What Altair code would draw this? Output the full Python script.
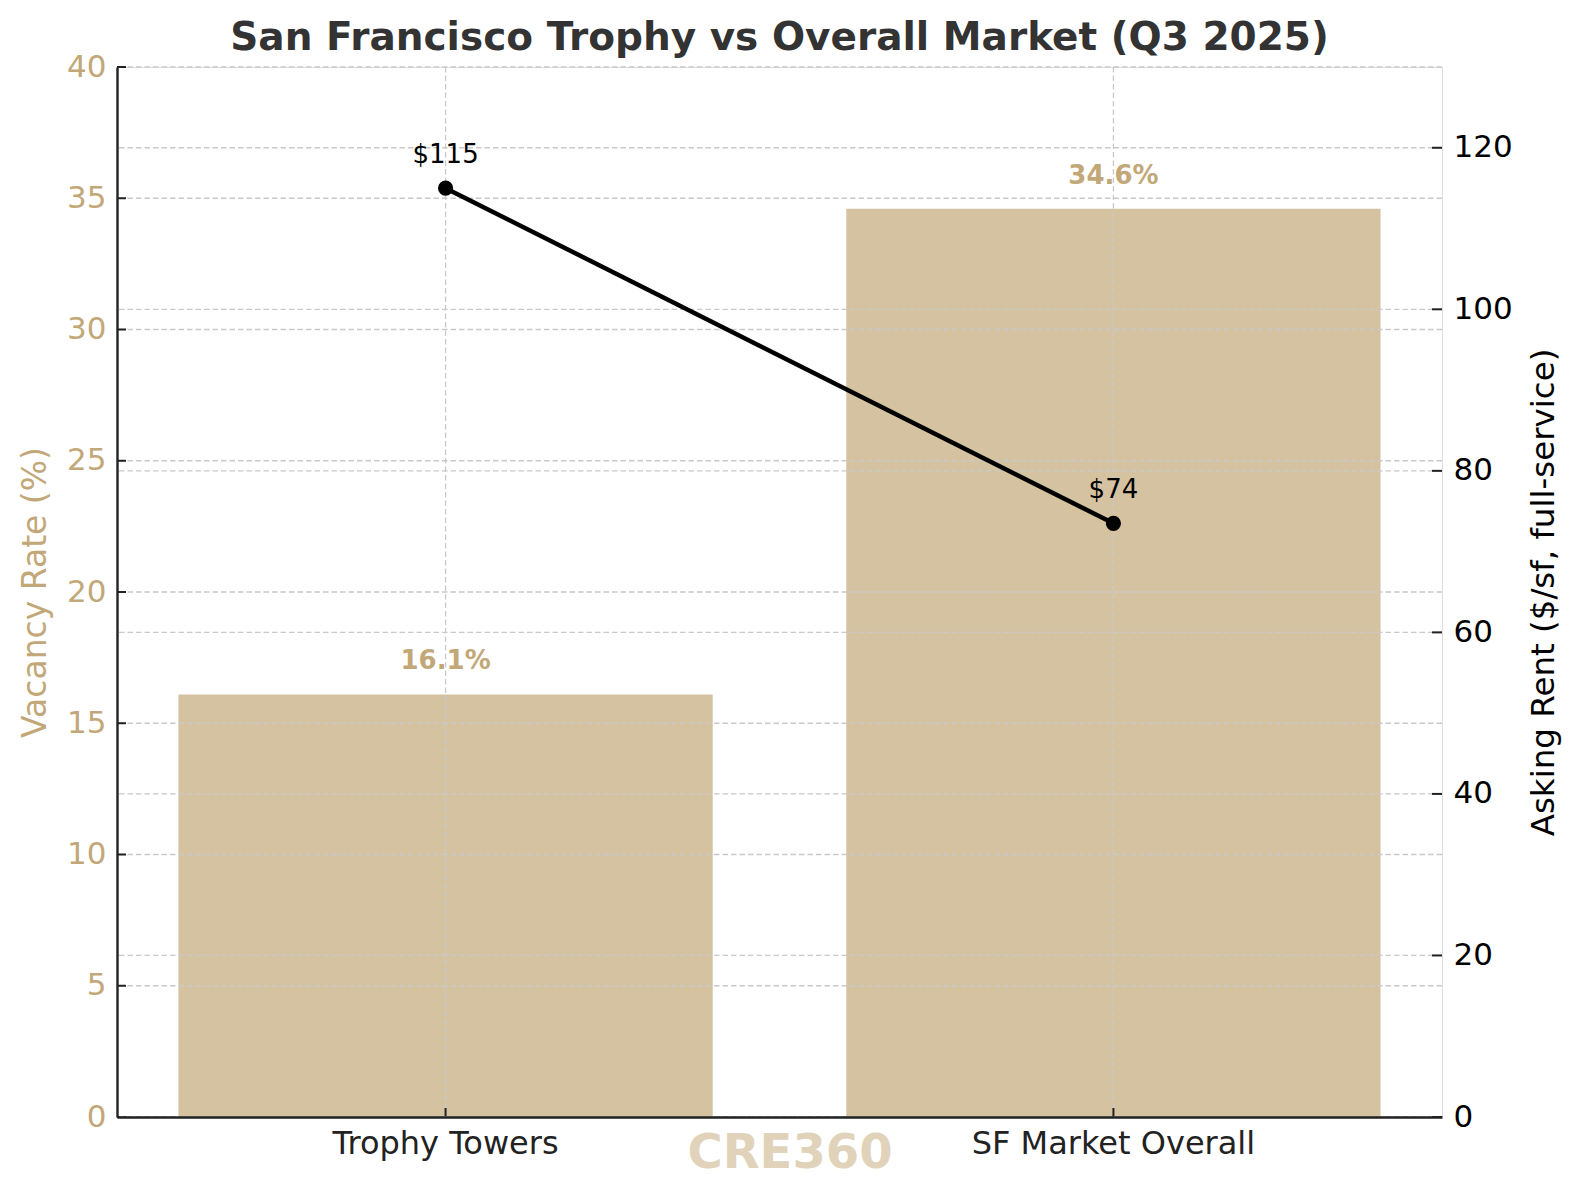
import altair as alt
import pandas as pd

# ---- data ----
categories = ["Trophy Towers", "SF Market Overall"]
vacancy_rate = [16.1, 34.6]          # %
asking_rent = [115, 73.5]            # $/sf full-service
vacancy_ticks = [0, 5, 10, 15, 20, 25, 30, 35, 40]
rent_ticks = [0, 20, 40, 60, 80, 100, 120]

title_text = "San Francisco Trophy vs Overall Market (Q3 2025)"
left_title = "Vacancy Rate (%)"
right_title = "Asking Rent ($/sf, full-service)"
watermark = "CRE360"

TAN = "#C2A878"
GRID = "#c9c9c9"
FONT = "DejaVu Sans"
W, H = 1325, 1050

bars_df = pd.DataFrame({
    "cat": categories,
    "vacancy": vacancy_rate,
    "label": [f"{v}%" for v in vacancy_rate],
})
rent_df = pd.DataFrame({
    "cat": categories,
    "rent": asking_rent,
    "label": [f"${v:.0f}" for v in asking_rent],
})
vt_df = pd.DataFrame({"vacancy": vacancy_ticks})
rt_df = pd.DataFrame({"rent": rent_ticks})
cat_df = pd.DataFrame({"cat": categories})
wm_df = pd.DataFrame({"t": [watermark]})

xscale = alt.Scale(paddingInner=0.2, paddingOuter=0.092)
x_enc = alt.X(
    "cat:N", sort=categories, scale=xscale, title=None,
    axis=alt.Axis(
        labelAngle=0, labelFontSize=32, labelColor="#222222", labelFont=FONT,
        labelLimit=1000,
        ticks=False, tickSize=0, labelPadding=11, grid=False,
        domain=True, domainColor="#222222", domainWidth=2.4, zindex=1,
    ),
)
x_plain = alt.X("cat:N", sort=categories, scale=xscale, title=None)

yl_scale = alt.Scale(domain=[0, 40], nice=False, zero=True)
yr_scale = alt.Scale(domain=[0, 130], nice=False, zero=True)

yl_axis = alt.Axis(
    values=vacancy_ticks, grid=False, ticks=False, tickSize=0,
    labelFontSize=31, labelColor=TAN, labelFont=FONT, labelPadding=11,
    title=left_title, titleColor=TAN, titleFontSize=33, titleFontWeight="normal",
    titleFont=FONT, titlePadding=14,
    domain=True, domainColor="#222222", domainWidth=2.4, zindex=1,
)
yr_axis = alt.Axis(
    orient="right", values=rent_ticks, grid=False, ticks=False, tickSize=0,
    labelFontSize=31, labelColor="#000000", labelFont=FONT, labelPadding=11,
    title=right_title, titleColor="#000000", titleFontSize=32.5,
    titleFontWeight="normal", titleFont=FONT, titlePadding=15,
    titleAngle=270, titleBaseline="top",
    domain=False,
)

grid_style = dict(color=GRID, strokeWidth=1.3, strokeDash=[5.5, 3])

bars = alt.Chart(bars_df).mark_bar(color=TAN, opacity=0.7).encode(
    x=x_enc,
    y=alt.Y("vacancy:Q", scale=yl_scale, axis=yl_axis),
)
left_grid = alt.Chart(vt_df).mark_rule(**grid_style).encode(
    y=alt.Y("vacancy:Q", scale=yl_scale),
)
x_grid = alt.Chart(cat_df).mark_rule(**grid_style).encode(x=x_plain)
left_ticks = alt.Chart(vt_df).mark_rule(color="#222222", strokeWidth=2).encode(
    y=alt.Y("vacancy:Q", scale=yl_scale),
    x=alt.value(0), x2=alt.value(9),
)
x_ticks = alt.Chart(cat_df).mark_rule(color="#222222", strokeWidth=2).encode(
    x=x_plain, y=alt.value(H - 9), y2=alt.value(H),
)
bar_labels = alt.Chart(bars_df).mark_text(
    font=FONT, fontSize=26, fontWeight="bold", color=TAN,
    baseline="alphabetic", dy=-25,
).encode(
    x=x_plain,
    y=alt.Y("vacancy:Q", scale=yl_scale),
    text="label:N",
)

layer_a = alt.layer(bars, left_grid, x_grid, left_ticks, x_ticks, bar_labels)

right_grid = alt.Chart(rt_df).mark_rule(**grid_style).encode(
    y=alt.Y("rent:Q", scale=yr_scale, axis=yr_axis),
)
right_ticks = alt.Chart(rt_df).mark_rule(color="#222222", strokeWidth=2).encode(
    y=alt.Y("rent:Q", scale=yr_scale),
    x=alt.value(W - 10), x2=alt.value(W),
)
line = alt.Chart(rent_df).mark_line(color="black", strokeWidth=4.5).encode(
    x=x_plain, y=alt.Y("rent:Q", scale=yr_scale),
)
points = alt.Chart(rent_df).mark_circle(color="black", size=230, opacity=1).encode(
    x=x_plain, y=alt.Y("rent:Q", scale=yr_scale),
)
rent_labels = alt.Chart(rent_df).mark_text(
    font=FONT, fontSize=26, color="black", baseline="alphabetic", dy=-25,
).encode(
    x=x_plain, y=alt.Y("rent:Q", scale=yr_scale), text="label:N",
)
wm = alt.Chart(wm_df).mark_text(
    font=FONT, fontSize=48, fontWeight="bold", color=TAN, opacity=0.5,
    baseline="alphabetic", align="center",
).encode(
    x=alt.value(673), y=alt.value(1101), text="t:N",
)

layer_b = alt.layer(right_grid, right_ticks, line, points, rent_labels, wm)

chart = alt.layer(layer_a, layer_b).resolve_scale(y="independent").properties(
    width=W, height=H,
    title=alt.TitleParams(
        title_text, fontSize=39, fontWeight="bold", color="#333333", font=FONT,
        anchor="middle", frame="group", baseline="alphabetic", offset=2, dy=40,
    ),
    autosize=alt.AutoSizeParams(type="none"),
    padding={"left": 109, "top": 59, "right": 120, "bottom": 80},
).configure_view(stroke=None).configure(background="white")

chart.save("out.html", embed_options={"renderer": "svg", "actions": False})
